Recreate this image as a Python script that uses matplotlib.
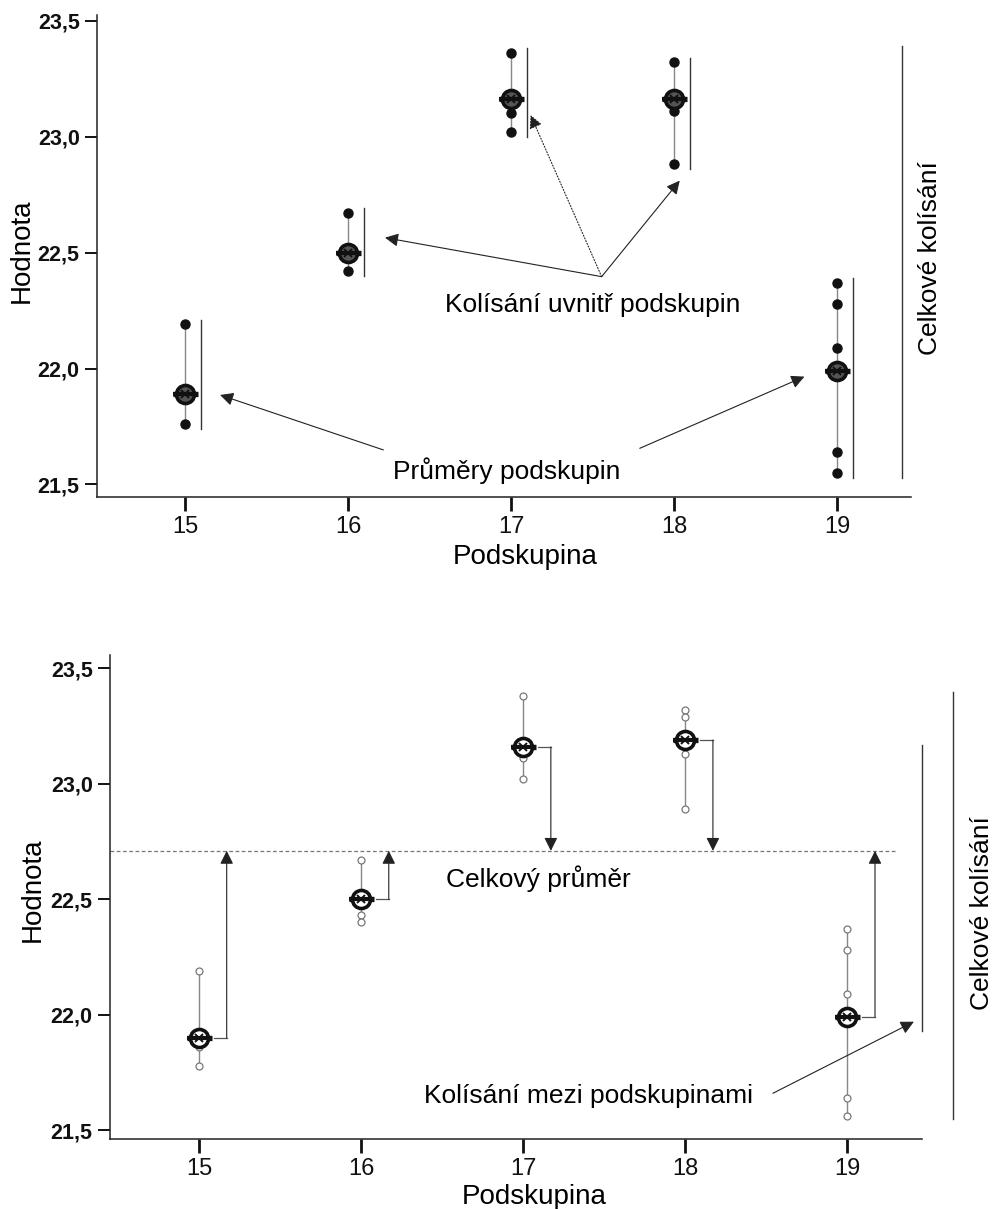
import matplotlib
matplotlib.use("Agg")
import matplotlib.pyplot as plt

plt.rcParams['font.family'] = ['Liberation Sans', 'DejaVu Sans']

groups = [15, 16, 17, 18, 19]
ytick_vals = [21.5, 22.0, 22.5, 23.0, 23.5]
ytick_labels = ["21,5", "22,0", "22,5", "23,0", "23,5"]

# top panel values
top_points = [
    [22.19, 21.87, 21.76],
    [22.67, 22.50, 22.42],
    [23.36, 23.10, 23.02],
    [23.32, 23.11, 22.88],
    [22.37, 22.28, 22.09, 21.64, 21.55],
]
top_means = [21.89, 22.50, 23.16, 23.16, 21.99]

# bottom panel values
bot_points = [
    [22.19, 21.86, 21.78],
    [22.67, 22.43, 22.40],
    [23.38, 23.11, 23.02],
    [23.32, 23.29, 23.13, 22.89],
    [22.37, 22.28, 22.09, 21.64, 21.56],
]
bot_means = [21.90, 22.50, 23.16, 23.19, 21.99]
grand_mean = 22.71

fig = plt.figure(figsize=(10, 12.09), dpi=100)
ax1 = fig.add_axes([0.097, 0.5889, 0.814, 0.3987])
ax2 = fig.add_axes([0.110, 0.0579, 0.812, 0.4003])


def style_axes(ax, ylim, xlim):
    ax.set_xlim(xlim)
    ax.set_ylim(ylim)
    for s in ["top", "right"]:
        ax.spines[s].set_visible(False)
    for s in ["left", "bottom"]:
        ax.spines[s].set_linewidth(1.1)
        ax.spines[s].set_color("#222222")
    ax.set_xticks(groups)
    ax.set_xticklabels([str(g) for g in groups], fontsize=17)
    ax.set_yticks(ytick_vals)
    ax.set_yticklabels(ytick_labels, fontsize=15.5, fontweight="bold")
    ax.tick_params(axis="x", length=10, width=2.0, pad=4, colors="#111111")
    ax.tick_params(axis="y", length=8.5, width=1.4, pad=4, colors="#111111")


def mean_marker(ax, x, y, heavy):
    ax.plot(x, y, marker="_", markersize=18, mew=3.8, color="#111111", zorder=5)
    ax.plot(x, y, marker="o", markersize=13, mfc="white" if not heavy else "#555555",
            mec="#111111", mew=2.6, zorder=6)
    ax.plot(x, y, marker="x", markersize=6, mew=1.4, color="#111111", zorder=7)
    ax.plot(x, y, marker="_", markersize=18, mew=3.0, color="#111111", zorder=8)


arrow_kw = dict(arrowstyle="-|>", mutation_scale=20, lw=0.8, color="#222222",
                shrinkA=0, shrinkB=0)

# ---- top panel ----
style_axes(ax1, (21.446, 23.524), (14.46, 19.454))
for g, pts, m in zip(groups, top_points, top_means):
    ax1.plot([g, g], [min(pts), max(pts)], color="#888888", lw=1.0, zorder=2)
    ax1.plot([g] * len(pts), pts, "o", color="#111111", markersize=6.5, zorder=3)
    mean_marker(ax1, g, m, True)
    ax1.plot([g + 0.1, g + 0.1], [min(pts) - 0.02, max(pts) + 0.02], color="#333333", lw=1.0)

all_top = [v for pts in top_points for v in pts]
ax1.plot([19.40, 19.40], [min(all_top) - 0.02, max(all_top) + 0.03], color="#333333", lw=1.0,
         clip_on=False)

ax1.text(17.50, 22.274, "Kolísání uvnitř podskupin", fontsize=19, ha="center", va="center")
ax1.annotate("", xy=(16.227, 22.564), xytext=(17.556, 22.396), arrowprops=arrow_kw)
ax1.annotate("", xy=(17.12, 23.093), xytext=(17.556, 22.396),
             arrowprops=dict(arrow_kw, linestyle=":"))
ax1.annotate("", xy=(18.035, 22.81), xytext=(17.556, 22.396), arrowprops=arrow_kw)

ax1.text(16.975, 21.56, "Průměry podskupin", fontsize=19, ha="center", va="center")
ax1.annotate("", xy=(15.215, 21.886), xytext=(16.217, 21.649), arrowprops=arrow_kw)
ax1.annotate("", xy=(18.80, 21.965), xytext=(17.79, 21.656), arrowprops=arrow_kw)

# ---- bottom panel ----
style_axes(ax2, (21.462, 23.558), (14.45, 19.46))
ax2.plot([14.45, 19.30], [grand_mean, grand_mean], color="#777777", lw=0.9,
         linestyle=(0, (3, 2)), zorder=1)
for g, pts, m in zip(groups, bot_points, bot_means):
    ax2.plot([g, g], [min(pts), max(pts)], color="#888888", lw=1.0, zorder=2)
    ax2.plot([g] * len(pts), pts, "o", mfc="white", mec="#777777", mew=0.9,
             markersize=5, zorder=3)
    mean_marker(ax2, g, m, False)
    xa = g + 0.17
    ax2.plot([g + 0.09, xa], [m, m], color="#555555", lw=0.9)
    ax2.annotate("", xy=(xa, grand_mean), xytext=(xa, m), arrowprops=arrow_kw)

ax2.plot([19.46, 19.46], [min(bot_means) + 0.03, max(bot_means) - 0.02], color="#333333",
         lw=1.0, clip_on=False)
all_bot = [v for pts in bot_points for v in pts]
ax2.plot([19.65, 19.65], [min(all_bot) - 0.01, max(all_bot) + 0.02], color="#333333",
         lw=1.0, clip_on=False)

ax2.text(17.09, 22.59, "Celkový průměr", fontsize=19, ha="center", va="center")
ax2.text(17.40, 21.65, "Kolísání mezi podskupinami", fontsize=19, ha="center", va="center")
ax2.annotate("", xy=(19.41, 21.97), xytext=(18.54, 21.66), arrowprops=arrow_kw,
             annotation_clip=False)

# labels
fig.text(0.022, 0.793, "Hodnota", rotation=90, fontsize=20, ha="center", va="center")
fig.text(0.033, 0.264, "Hodnota", rotation=90, fontsize=20, ha="center", va="center")
fig.text(0.525, 0.539, "Podskupina", fontsize=20, ha="center", va="center")
fig.text(0.534, 0.0099, "Podskupina", fontsize=20, ha="center", va="center")
fig.text(0.930, 0.7866, "Celkové kolísání", rotation=90, fontsize=19, ha="center", va="center")
fig.text(0.982, 0.2448, "Celkové kolísání", rotation=90, fontsize=19, ha="center", va="center")

fig.savefig("out.png", dpi=100)
